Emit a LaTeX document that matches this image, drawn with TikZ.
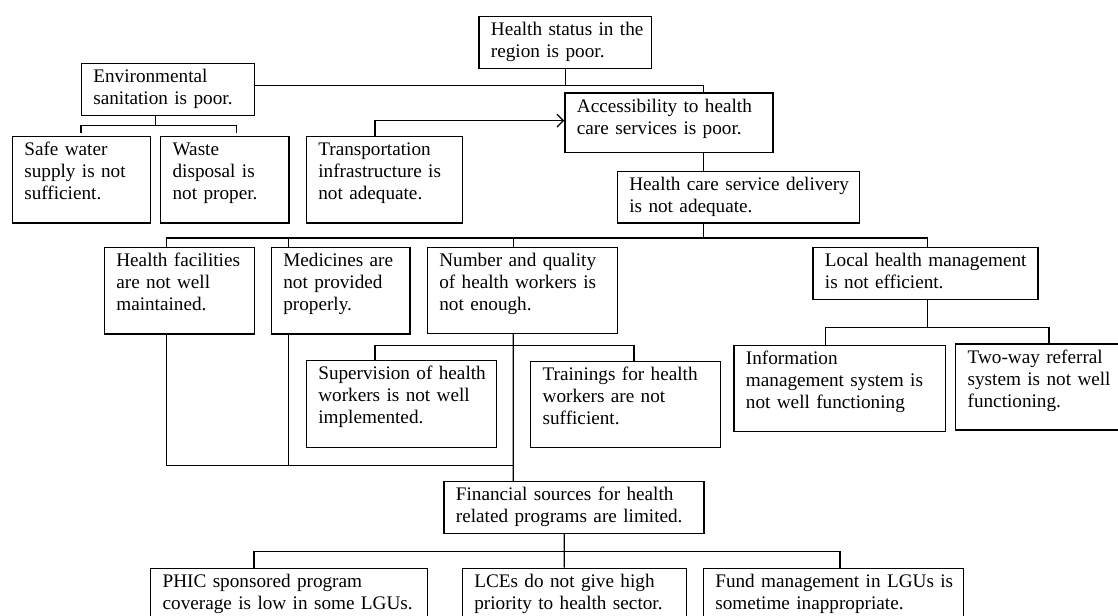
\documentclass[tikz,border=0pt]{standalone}
\usepackage{fontspec}
\setmainfont{Liberation Serif}
\usetikzlibrary{arrows.meta,calc}

\begin{document}
\begin{tikzpicture}[x=0.625pt, y=-0.625pt, >={Straight Barb[length=4pt,width=8pt]}, line width=0.8pt,
    cause/.style 2 args={draw, anchor=north west, align=left,
      inner xsep=0pt, inner ysep=3pt,
      text width={#1*0.625pt}, text height=9pt, text depth={#2*0.625pt-15pt},
      font=\fontsize{12pt}{13.75pt}\selectfont,
      execute at begin node={\leftskip=7.5pt}}]
    \path[use as bounding box, fill=white] (0,0) rectangle (1118,615);
    \clip (0,0) rectangle (1118,615);

    % top of the tree
    \node[cause={172.7}{52}] (status) at (478.3,15.7) {Health status in the\\region is poor.};
    \node[cause={173.3}{52.3}] (env) at (80.7,62.7) {Environmental\\sanitation is poor.};
    \node[cause={208}{59.4}] (access) at (564.3,92.3) {Accessibility to health\\care services is poor.};

    % second row
    \node[cause={138.3}{86.3}] (safe) at (11.7,136) {Safe water\\supply is not\\sufficient.};
    \node[cause={128.3}{86.3}] (waste) at (160,136) {Waste\\disposal is\\not proper.};
    \node[cause={156}{86.6}] (transport) at (305.7,135.7) {Transportation\\infrastructure is\\not adequate.};
    \node[cause={242.3}{51.3}] (delivery) at (616.7,171) {Health care service delivery\\is not adequate.};

    % service delivery causes
    \node[cause={150.3}{86.6}] (facilities) at (103.7,246.7) {Health facilities\\are not well\\maintained.};
    \node[cause={138.6}{86.6}] (medicines) at (270.7,246.7) {Medicines are\\not provided\\properly.};
    \node[cause={190}{86}] (workers) at (426.7,246.7) {Number and quality\\of health workers is\\not enough.};
    \node[cause={225}{52.3}] (localmgmt) at (812.3,246.7) {Local health management\\is not efficient.};
    \node[cause={190}{86.7}] (supervision) at (305.7,360) {Supervision of health\\workers is not well\\implemented.};
    \node[cause={190}{86}] (trainings) at (530,360.7) {Trainings for health\\workers are not\\sufficient.};
    \node[cause={211.7}{86}] (infosys) at (733.3,345) {Information\\management system is\\not well functioning};
    \node[cause={165}{86}] (referral) at (955,343.3) {Two-way referral\\system is not well\\functioning.};

    % financing
    \node[cause={260}{51.7}] (finance) at (443.3,481) {Financial sources for health\\related programs are limited.};
    \node[cause={276.7}{60}] (phic) at (150,567.7) {PHIC sponsored program\\coverage is low in some LGUs.};
    \node[cause={224}{60}] (lces) at (461.7,567.7) {LCEs do not give high\\priority to health sector.};
    \node[cause={260}{60}] (fund) at (702.7,567.7) {Fund management in LGUs is\\sometime inappropriate.};

    % connectors from the top
    \draw (status.south) -- ++(0,16.6) coordinate (sj);
    \draw (env.east |- sj) -| ($(access.north west)+(139,0)$);
    \draw ($(access.south west)+(139,0)$) coordinate (ad) -- (ad |- delivery.north);

    % sanitation branch
    \draw ($(env.south west)+(75,0)$) -- ++(0,9) coordinate (ej);
    \draw ($(safe.north west)+(69.3,-2.7)$) |- (ej) -| ($(waste.north west)+(76.7,-2.7)$);

    % transport arrow
    \draw[->] ($(transport.north west)+(69.3,0)$) |- ($(access.west)+(0,-2)$);

    % service delivery branch
    \draw ($(delivery.south west)+(86.6,0)$) -- ++(0,14.4) coordinate (dj);
    \draw ($(facilities.north west)+(63,0)$) |- (dj) -| ($(localmgmt.north west)+(115.4,0)$);
    \draw ($(medicines.north west)+(17.6,0)$) coordinate (mt) -- (mt |- dj);
    \draw ($(workers.north west)+(86.6,0)$) coordinate (wt) -- (wt |- dj);

    % health workers branch
    \draw ($(workers.south west)+(86.6,0)$) coordinate (wb) -- ($(finance.north west)+(70,0)$);
    \draw ($(supervision.north west)+(69.3,0)$) |- ($(wb)+(0,11.3)$) -| ($(trainings.north west)+(104,0)$);

    % facilities and medicines down to finance
    \coordinate (fj) at ($(wb)+(0,131.3)$);
    \draw ($(facilities.south west)+(63,0)$) |- (fj);
    \draw ($(medicines.south west)+(17.6,0)$) coordinate (mb) -- (mb |- fj);

    % finance branch
    \draw ($(finance.south west)+(121,0)$) coordinate (fb) -- ($(lces.north west)+(102.6,0)$);
    \draw ($(phic.north west)+(104,0)$) |- ($(fb)+(0,17.3)$) -| ($(fund.north west)+(137.3,0)$);

    % local management branch
    \draw ($(localmgmt.south west)+(115.4,0)$) -- ++(0,27) coordinate (lj);
    \draw ($(infosys.north west)+(92.4,0)$) |- (lj) -| ($(referral.north west)+(94,0)$);
\end{tikzpicture}
\end{document}
